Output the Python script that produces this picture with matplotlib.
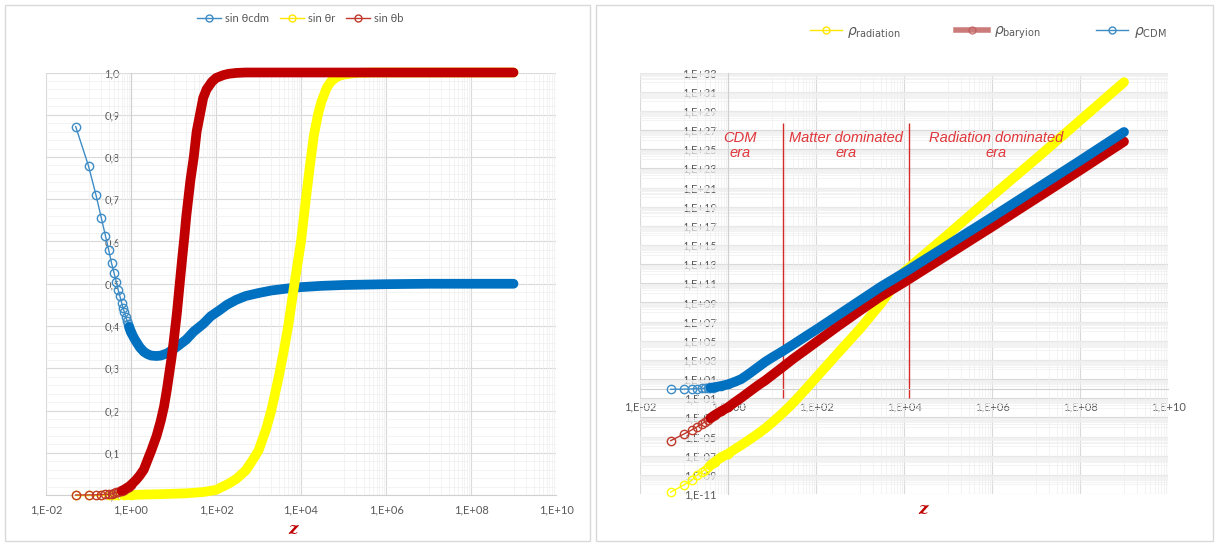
import matplotlib
matplotlib.use("Agg")
import matplotlib.pyplot as plt
import numpy as np
from matplotlib.ticker import FixedLocator, FuncFormatter, MultipleLocator, NullLocator
from matplotlib.lines import Line2D
from matplotlib.patches import Rectangle

plt.rcParams['font.family'] = ['Lato', 'DejaVu Sans']

# ---- left panel: sin(theta) against z ----
cdm_z = [0.05, 0.1, 0.15, 0.2, 0.25, 0.3, 0.35, 0.4, 0.45, 0.5, 0.55, 0.6, 0.65, 0.7, 0.75,
         0.8, 0.85, 0.9, 0.95, 1.0, 1.25, 1.6, 2, 2.5, 3, 4, 5, 7, 10, 14, 20, 30, 50, 75,
         120, 180, 300, 500, 1000, 2000, 5000, 1e4, 3e4, 1e5, 1e6, 1e7, 1e8, 1e9]
sin_cdm = [0.872, 0.779, 0.71, 0.656, 0.614, 0.579, 0.548, 0.525, 0.505, 0.485, 0.47, 0.455,
           0.443, 0.432, 0.422, 0.413, 0.405, 0.398, 0.391, 0.385, 0.367, 0.35, 0.339, 0.333,
           0.33, 0.329, 0.33, 0.335, 0.345, 0.356, 0.368, 0.387, 0.405, 0.423, 0.437, 0.45,
           0.462, 0.471, 0.478, 0.484, 0.489, 0.492, 0.495, 0.497, 0.499, 0.5, 0.5, 0.5]

r_z = [0.05, 0.1, 0.2, 0.3, 0.4, 0.5, 0.7, 1.0, 2, 5, 10, 20, 50, 100, 200, 300, 500, 700,
       1000, 1500, 2000, 3000, 4000, 5000, 7000, 1e4, 1.3e4, 1.6e4, 2e4, 2.5e4, 3e4, 4e4,
       5e4, 7e4, 1e5, 2e5, 5e5, 1e6, 1e7, 1e8, 1e9]
sin_r = [0.0, 0.0, 0.0, 0.0, 0.0, 0.0, 0.0, 0.0, 0.001, 0.002, 0.003, 0.004, 0.007, 0.012,
         0.027, 0.038, 0.058, 0.08, 0.105, 0.155, 0.2, 0.28, 0.345, 0.4, 0.5, 0.6, 0.7, 0.775,
         0.85, 0.9, 0.93, 0.963, 0.978, 0.99, 0.995, 0.999, 1.0, 1.0, 1.0, 1.0, 1.0]

b_z = [0.05, 0.1, 0.15, 0.2, 0.25, 0.3, 0.35, 0.4, 0.45, 0.5, 0.6, 0.7, 0.8, 0.9, 1.0,
       1.3, 1.6, 2, 2.5, 3, 4, 5, 6, 7, 8, 9, 10, 12, 14, 16, 18, 20, 25, 30, 35, 40, 50,
       60, 80, 100, 150, 200, 300, 500, 1000, 1e4, 1e5, 1e6, 1e7, 1e8, 1e9]
sin_b = [0.0, 0.0002, 0.0005, 0.001, 0.0015, 0.002, 0.003, 0.004, 0.006, 0.007, 0.01, 0.013,
         0.017, 0.02, 0.024, 0.035, 0.046, 0.06, 0.085, 0.105, 0.14, 0.175, 0.21, 0.25, 0.29,
         0.325, 0.36, 0.43, 0.5, 0.56, 0.61, 0.66, 0.745, 0.8, 0.86, 0.89, 0.94, 0.96, 0.978,
         0.987, 0.994, 0.997, 0.999, 1.0, 1.0, 1.0, 1.0, 1.0, 1.0, 1.0, 1.0]

# ---- right panel: log10 of densities against z ----
rho_z = [0.05, 0.1, 0.15, 0.2, 0.25, 0.3, 0.35, 0.4, 0.45, 0.5, 0.7, 1, 1.5, 2, 3, 5, 7, 10,
         18, 30, 60, 100, 300, 1000, 3000, 1e4, 1e5, 1e6, 1e7, 1e8, 1e9]
log_rho_rad = [-10.8, -10.05, -9.55, -9.0, -8.7, -8.45, -8.2, -8.0, -7.8, -7.65, -7.15, -6.8,
               -6.25, -5.9, -5.35, -4.65, -4.15, -3.55, -2.5, -1.5, 0.0, 1.15, 3.6, 6.25,
               8.9, 12.2, 16.1, 20.1, 24.0, 28.0, 32.0]
log_rho_bar = [-5.43, -4.73, -4.31, -3.97, -3.7, -3.45, -3.25, -3.07, -2.9, -2.75, -2.35,
               -1.95, -1.35, -0.95, -0.35, 0.4, 0.85, 1.4, 2.3, 3.1, 4.1, 4.85, 6.45, 8.15,
               9.65, 11.1, 14.0, 16.9, 19.85, 22.8, 25.8]
log_rho_cdm = [-0.07, -0.05, -0.03, 0.0, 0.02, 0.05, 0.07, 0.1, 0.12, 0.15, 0.28, 0.45, 0.75,
               1.0, 1.55, 2.3, 2.8, 3.25, 3.95, 4.6, 5.5, 6.15, 7.6, 9.2, 10.65, 12.1, 15.0,
               17.9, 20.85, 23.8, 26.8]

era_bounds = [17.6, 1.29e4]
era_line_span = [1e-1, 5e27]
era_labels = ["CDM\nera", "Matter dominated\nera", "Radiation dominated\nera"]
era_label_z = [1.84, 490, 1.26e6]
era_label_rho = 10 ** 25.4

BLUE = '#0070C0'
RED = '#C00000'
YELLOW = '#FFFF00'
GRID = '#d9d9d9'
MINOR = '#efefef'
TICK = '#595959'


def draw_series(ax, z, v, color, band_from, thin_color=None):
    z = np.asarray(z, dtype=float)
    v = np.asarray(v, dtype=float)
    sparse = z <= 1.0
    ax.plot(z[sparse], v[sparse], '-o', color=thin_color or color, lw=1, ms=6,
            mfc='none', mew=1, clip_on=False, zorder=3)
    dense = z >= band_from
    ax.plot(z[dense], v[dense], '-', color=color, lw=7, solid_capstyle='round',
            solid_joinstyle='round', clip_on=False, zorder=3)


def exp_label(x, pos):
    e = int(round(np.log10(x)))
    return "1,E%+03d" % e


def minor_grid(ax, xs=(), ys=()):
    # drawn as plain lines under the axis so they never cross the tick labels
    for x in xs:
        ax.axvline(x, color=MINOR, lw=0.5, zorder=0.6)
    for y in ys:
        ax.axhline(y, color=MINOR, lw=0.5, zorder=0.6)


def style_log_x(ax):
    ax.set_xscale('log')
    ax.set_xlim(1e-2, 1e10)
    ax.xaxis.set_major_locator(FixedLocator(10.0 ** np.arange(-2, 11, 2)))
    ax.xaxis.set_minor_locator(NullLocator())
    ax.xaxis.set_major_formatter(FuncFormatter(exp_label))
    minor_grid(ax, xs=[m * 10.0 ** e for e in range(-1, 10, 2) for m in range(1, 10)])


def common_style(ax):
    ax.grid(which='major', color=GRID, lw=0.8)
    ax.set_axisbelow(True)
    for s in ['top', 'right']:
        ax.spines[s].set_visible(False)
    for s in ['left', 'bottom']:
        ax.spines[s].set_color('#d0d0d0')
        ax.spines[s].set_linewidth(0.8)
    ax.tick_params(which='both', length=0, labelsize=8, labelcolor=TICK)
    ax.set_facecolor('white')


fig = plt.figure(figsize=(12.2, 5.46), dpi=100)
fig.patches.append(Rectangle((5 / 1220, 5 / 546), 585 / 1220, 536 / 546,
                             transform=fig.transFigure, fill=False, ec='#d9d9d9', lw=1))
fig.patches.append(Rectangle((596 / 1220, 5 / 546), 617 / 1220, 536 / 546,
                             transform=fig.transFigure, fill=False, ec='#d9d9d9', lw=1))

# left chart
ax1 = fig.add_axes([46 / 1220, 1 - 495 / 546, 510 / 1220, 422.5 / 546])
style_log_x(ax1)
ax1.set_ylim(0, 1.0)
ax1.yaxis.set_major_locator(MultipleLocator(0.1))
ax1.yaxis.set_minor_locator(NullLocator())
minor_grid(ax1, ys=[k / 50 for k in range(1, 50) if k % 5])
ax1.yaxis.set_major_formatter(FuncFormatter(lambda v, p: ("%.1f" % v).replace('.', ',')))
common_style(ax1)
ax1.spines['left'].set_position(('data', 1))
ax1.tick_params(axis='x', pad=7)
ax1.tick_params(axis='y', pad=8)

draw_series(ax1, cdm_z, sin_cdm, BLUE, 0.9, thin_color='#3d8cc6')
draw_series(ax1, r_z, sin_r, YELLOW, 0.7)
draw_series(ax1, b_z, sin_b, RED, 0.6, thin_color='#c0392b')

h1 = [Line2D([], [], color=c, marker='o', mfc='none', lw=1, ms=5)
      for c in ['#3d8cc6', '#ffe600', '#c0392b']]
fig.legend(h1, ['sin θcdm', 'sin θr', 'sin θb'], loc='center',
           bbox_to_anchor=(300 / 1220, 1 - 18 / 546), ncol=3, frameon=False,
           fontsize=8, handlelength=2.2, columnspacing=1.0, handletextpad=0.3,
           labelcolor=TICK)
fig.text(293 / 1220, 1 - 529 / 546, 'z', color=RED, fontsize=12, family='DejaVu Serif',
         style='italic', weight='bold', ha='center', va='center')

# right chart
ax2 = fig.add_axes([640 / 1220, 1 - 494 / 546, 528 / 1220, 421.4 / 546])
style_log_x(ax2)
ax2.set_yscale('log')
ax2.set_ylim(1e-11, 1e33)
ax2.yaxis.set_major_locator(FixedLocator(10.0 ** np.arange(-11, 34, 2)))
ax2.yaxis.set_minor_locator(NullLocator())
minor_grid(ax2, ys=[m * 10.0 ** e for e in range(-10, 33, 2) for m in range(1, 10)])
ax2.yaxis.set_major_formatter(FuncFormatter(exp_label))
common_style(ax2)
ax2.spines['left'].set_position(('data', 1))
ax2.spines['bottom'].set_position(('data', 1))
ax2.tick_params(axis='x', pad=9)
ax2.tick_params(axis='y', pad=8)

draw_series(ax2, rho_z, 10.0 ** np.array(log_rho_rad), YELLOW, 0.4)
draw_series(ax2, rho_z, 10.0 ** np.array(log_rho_bar), RED, 0.4, thin_color='#c0392b')
draw_series(ax2, rho_z, 10.0 ** np.array(log_rho_cdm), BLUE, 0.4, thin_color='#3d8cc6')

ax2.vlines(era_bounds, era_line_span[0], era_line_span[1], color='#d42a2a', lw=1, zorder=2)
for lab, zx in zip(era_labels, era_label_z):
    ax2.text(zx, era_label_rho, lab, color='#e0363a', fontsize=10.5, style='italic',
             family='Liberation Sans', ha='center', va='center', linespacing=1.1)

h2 = [Line2D([], [], color='#ffe600', marker='o', mfc='none', lw=1, ms=5),
      Line2D([], [], color='#c05a5a', marker='o', mfc='none', lw=4, ms=5, alpha=0.8),
      Line2D([], [], color='#3d8cc6', marker='o', mfc='none', lw=1, ms=5)]
fig.legend(h2, [r'$\rho_{\rm radiation}$', r'$\rho_{\rm baryion}$', r'$\rho_{\rm CDM}$'],
           loc='center', bbox_to_anchor=(988 / 1220, 1 - 33 / 546), ncol=3, frameon=False,
           fontsize=10, handlelength=2.3, columnspacing=4.0, handletextpad=0.4,
           labelcolor=TICK)
fig.text(923 / 1220, 1 - 509 / 546, 'z', color=RED, fontsize=12, family='DejaVu Serif',
         style='italic', weight='bold', ha='center', va='center')

fig.savefig('out.png', dpi=100, facecolor='white')
